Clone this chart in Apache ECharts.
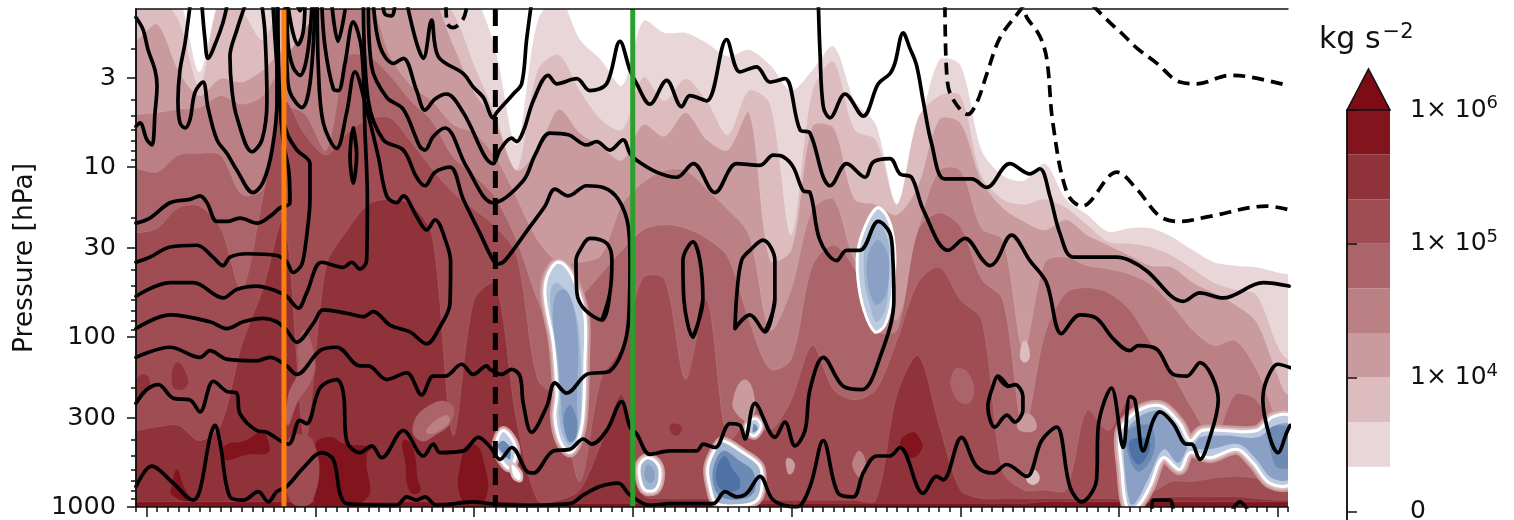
<!DOCTYPE html>
<html><head><meta charset="utf-8">
<style>html,body{margin:0;padding:0;background:#fff}#c{width:1514px;height:520px}</style>
<script src="https://cdn.jsdelivr.net/npm/echarts@6/dist/echarts.min.js"></script>
</head><body><div id="c"></div>
<script>
// ---- axes ----
const majorDays=[1,17,32,47,62,78,93,108];
const majorPressure=[3,10,30,100,300,1000];
const minorPressure=[2,3,4,5,6,7,8,9,10,20,30,40,50,60,70,80,90,100,200,300,400,500,600,700,800,900,1000];
const cbarLevels=[9,6,3,0];
const cbarLabels=['1× 10|6','1× 10|5','1× 10|4','0'];
const markerDays={orange:14,dashed:34,green:47};
// ---- filled bands: log10(pressure) of the top edge of each level, every 2 days + day 109 ----
const bandDays=[0,2,4,6,8,10,12,14,16,18,20,22,24,26,28,30,32,34,36,38,40,42,44,46,48,50,52,54,56,58,60,62,64,66,68,70,72,74,76,78,80,82,84,86,88,90,92,94,96,98,100,102,104,106,108,109];
const band1=[0,0,0,.44,0,0,0,0,0,0,0,0,0,0,0,0,0,.31,.87,.14,0,.25,.37,.52,.14,.21,.21,.27,.35,.31,.4,.55,.43,.29,.61,.75,1.22,.81,.37,.4,.9,1.05,1.08,.98,1.19,1.28,1.38,1.36,1.36,1.41,1.49,1.56,1.58,1.59,1.62,1.63];
const band2=[0,0,.13,.52,0,.08,.25,0,0,0,0,0,0,0,0,.09,.4,.69,1.02,.43,.34,.55,.72,.78,.47,.61,.48,.61,.81,.55,.63,1.4,.55,.38,.78,.84,1.22,.71,.58,.58,1.05,1.19,1.22,1.19,1.24,1.34,1.44,1.45,1.47,1.52,1.6,1.68,1.72,1.75,2.05,2.13];
const band3=[.25,.16,.43,.58,.48,.5,.43,.31,.3,.25,.09,0,0,0,0,.28,.56,.73,1.02,.9,.66,.8,.88,.96,.75,.82,.68,.84,.9,.68,1.55,1.49,.76,.77,1.19,1.22,1.28,1.11,.72,.74,1.08,1.24,1.32,1.37,1.31,1.4,1.46,1.52,1.58,1.59,1.68,1.74,1.81,1.91,2.22,2.34];
const band4=[.69,.68,.66,.65,.58,.63,.58,.37,.19,0,0,0,.34,.52,.61,.75,.8,.94,1.18,1.43,1.56,1.56,1.52,1.22,1.09,1.02,1.02,1.13,1.25,1.4,1.96,1.72,1.25,1.19,1.55,1.66,1.9,1.37,1.02,1.02,1.36,1.43,2.08,1.56,1.53,1.58,1.6,1.63,1.69,1.81,1.96,2.05,2.02,2.19,2.49,2.55];
const band5=[1.01,1.03,.93,.92,.93,1.16,1.13,.66,.69,.9,.35,.35,.46,.61,.73,.94,1.05,1.18,1.43,1.78,2.02,1.78,1.63,1.49,1.37,1.34,1.36,1.42,1.53,1.9,2.19,2.13,1.58,1.46,1.6,1.96,1.96,1.37,1.27,1.35,1.66,1.78,2.55,1.98,1.74,1.71,1.74,1.84,2.03,2.21,2.43,2.6,2.34,2.37,2.6,2.6];
const band6=[1.39,1.36,1.24,1.23,1.36,1.72,1.18,.61,.81,.93,.8,.72,.71,.85,1.01,1.15,1.25,1.35,1.52,2.25,2.37,2.85,2.25,2.05,1.65,1.66,2.25,1.78,2.61,2.49,2.55,2.37,2.05,2.31,2.37,2.31,2.02,1.68,1.59,1.78,1.9,2.79,2.9,2.9,2.9,2.43,2.55,2.37,2.9,2.85,2.85,2.83,2.82,2.83,2.87,2.9];
const band7=[2.55,2.53,2.52,2.61,2.52,2.05,1.72,1.31,2.61,1.58,1.37,1.22,1.19,1.22,1.4,2.58,1.78,1.69,2.49,2.96,2.96,2.9,2.63,2.34,2.93,2.95,2.95,2.95,2.96,2.96,2.96,2.96,2.96,2.96,2.96,2.96,2.34,2.11,2.52,2.9,2.95,2.95,2.95,2.95,2.95,2.95,2.95,2.96,2.95,2.94,2.94,2.94,2.94,2.95,2.96,2.96];
const band8=[2.97,2.97,2.97,2.97,2.97,2.97,2.97,2.97,2.97,2.97,2.97,2.97,2.97,2.97,2.97,2.97,2.97,2.97,2.97,2.98,2.98,2.98,2.98,2.98,2.98,2.98,2.98,2.98,2.98,2.98,2.98,2.98,2.98,2.98,2.98,2.98,2.98,2.98,2.98,2.98,2.98,2.98,2.98,2.97,2.97,2.97,2.97,2.97,2.97,2.97,2.97,2.97,2.97,2.97,2.97,2.97];
const bandColors=['#e9d6d8','#dcbcbf','#c99b9e','#ba8083','#ab656a','#9f4c52','#8f323a','#81141c'];
// ---- patches [day,log10p,...] ----
const patches=[
 [7,[3.41,2.28,3.88,2.15,4.92,2.25,4.35,2.31]],
 [7,[0,2.26,.85,2.22,1.32,2.28,.38,2.37,0,2.4]],
 [8,[8.23,2.72,8.42,2.64,10.31,2.61,11.92,2.56,12.49,2.61,12.49,2.68,10.79,2.69]],
 [8,[16.75,2.96,16.93,2.64,18.35,2.59,19.77,2.63,21.67,2.64,22.42,2.65,21.85,2.69,21.67,2.96]],
 [8,[25.26,2.61,26.11,2.64,26.68,2.84,26.87,2.91,25.92,2.91,25.45,2.73]],
 [8,[30.84,2.96,30.94,2.67,31.79,2.63,32.73,2.69,33.02,2.96]],
 [8,[3.41,2.93,3.41,2.87,3.88,2.78,4.45,2.87,5.11,2.96]],
 [8,[72.28,2.63,73.41,2.56,74.17,2.6,74.36,2.66,73.22,2.71]],
 [6,[14.29,2.61,16.75,2.61,16.75,2.96,14.57,2.96]],
 [5,[15.99,1.96,16.93,2.14,16.65,2.25,15.33,2.38,14.38,2.52,14.38,2.35,15.33,2.2,15.33,2.05]],
 [5,[26.2,2.52,27.81,2.4,29.71,2.39,29.9,2.49,28.29,2.58,26.87,2.61]],
 [4,[27.53,2.54,29.23,2.46,29.71,2.49,28.76,2.55,27.63,2.57]],
 [3,[57.62,2.25,58.56,2.37,58.09,2.49,56.95,2.46,56.48,2.37]],
 [5,[77.96,2.18,79.09,2.25,79.09,2.37,78.14,2.39,77.2,2.31,77.2,2.22]],
 [2,[84.1,2.02,84.58,2.11,84.1,2.15,83.63,2.11]],
 [3,[84.3,2.45,85.24,2.52,84.58,2.56,83.35,2.53]],
 [2,[84.86,2.78,85.52,2.83,84.86,2.87,84.2,2.83]],
 [3,[61.68,2.71,62.35,2.75,61.87,2.81,61.5,2.76]],
 [4,[68.5,2.67,69.06,2.75,68.69,2.83,67.83,2.77,67.93,2.71]],
 [7,[50.71,2.51,51.66,2.53,51.18,2.58,50.52,2.55]]
];
// ---- negative (blue) regions ----
const blobA=[39.92,1.56,40.87,1.6,41.72,1.71,42.48,1.88,42.48,2.13,42.29,2.47,41.82,2.61,41.06,2.68,40.11,2.61,39.64,2.47,39.83,2.33,39.45,2.02,38.88,1.84,38.69,1.72,39.07,1.62];
const blobAmid=[39.83,1.68,40.77,1.74,41.53,1.84,42,2.02,42.1,2.43,41.72,2.58,41.06,2.64,40.4,2.58,40.02,2.46,40.11,2.34,39.73,2.07,39.26,1.84,39.26,1.72];
const blobAcore=[39.73,1.75,40.59,1.72,41.34,1.81,41.82,2.02,41.72,2.37,41.72,2.55,41.06,2.62,40.49,2.55,40.2,2.37,39.92,2.13,39.45,1.9];
const blobAdark=[41.06,2.4,41.72,2.49,41.63,2.59,41.06,2.62,40.59,2.55,40.49,2.46];
const blobB=[70.1,1.24,69.06,1.34,68.31,1.49,68.31,1.66,68.87,1.84,69.91,1.97,70.86,1.93,71.52,1.78,71.81,1.55,71.52,1.37,70.86,1.27];
const blobBmid=[70.1,1.32,69.25,1.4,68.87,1.52,68.97,1.69,69.44,1.81,70.01,1.91,70.86,1.85,71.24,1.66,71.24,1.46,70.77,1.37];
const blobBcore=[70.1,1.43,69.25,1.52,69.25,1.69,70.01,1.81,70.96,1.75,71.24,1.55,70.77,1.46];
const blobC=[34.72,2.55,35.67,2.61,35.95,2.69,35.38,2.77,34.63,2.73,34.06,2.64];
const blobCcore=[34.72,2.61,35.38,2.65,35.38,2.72,34.91,2.7,34.25,2.64];
const spotC=[35.57,2.75,36.33,2.8,36.33,2.84,35.76,2.82];
const blobD=[48.44,2.71,49.38,2.75,49.57,2.83,49.1,2.9,48.15,2.9,47.68,2.83,47.68,2.75];
const blobDcore=[48.44,2.75,49.01,2.78,49.01,2.84,48.63,2.86,48.15,2.83,48.15,2.78];
const blobE=[55.53,2.61,57.43,2.68,59.04,2.76,59.22,2.88,58.75,2.96,57.43,2.99,54.97,2.98,54.3,2.88,54.12,2.76,54.97,2.64];
const blobEcore=[55.53,2.67,57.14,2.73,58.37,2.79,58.56,2.9,57.62,2.95,55.72,2.95,54.78,2.9,54.59,2.78];
const blobEdark=[55.72,2.7,56.48,2.78,57.14,2.84,56.95,2.9,55.44,2.9,54.87,2.84,55.06,2.75];
const blobF=[57.8,2.52,58.56,2.48,59.13,2.52,58.56,2.58,57.9,2.56];
const blobFcore=[58.47,2.51,58.84,2.54,58.37,2.56];
const blobG=[93.09,2.56,94.04,2.47,95.65,2.41,97.16,2.41,98.77,2.51,99.72,2.61,100.85,2.55,102.84,2.55,106.06,2.55,107.57,2.47,109.2,2.47,109.2,2.86,107.28,2.86,105.68,2.74,104.16,2.66,101.61,2.71,99.72,2.68,98.77,2.78,97.16,2.71,95.93,2.88,94.7,3,93.76,3,93.28,2.78];
const blobGleft=[93.56,2.58,94.51,2.49,95.93,2.44,97.16,2.44,98.48,2.53,99.43,2.65,99.43,2.66,98.58,2.74,97.25,2.66,95.74,2.84,94.51,2.98,94.04,2.98,93.56,2.78];
const blobGright=[100.66,2.59,103.03,2.58,106.15,2.59,107.76,2.52,109.2,2.52,109.2,2.83,107.47,2.83,105.87,2.71,104.26,2.63,101.61,2.66,100.19,2.65];
const blobGdark=[93.85,2.55,95.93,2.52,96.41,2.64,95.74,2.75,94.7,2.79,93.76,2.66];
const blobGdeep=[94.04,2.61,95.74,2.6,95.93,2.66,94.99,2.75,94.23,2.71];
const blobGedge=[107.28,2.54,109.2,2.54,109.2,2.76,107.85,2.76];
// ---- contours [day,log10p,...] ----
const lineL1=[0,.12,.66,.19,1.14,.31,1.8,.43,1.99,.52,1.8,.68,1.51,.87,1.04,.84,.38,.74,0,.76];
const lineL2=[5.11,.05,4.64,.27,4.16,.43,3.97,.61,4.16,.74,4.64,.77,5.11,.72,5.58,.56,6.34,.5,6.81,.65,7.66,.84,8.61,.92,9.56,1.02,11.07,1.15,12.02,1.09,12.87,.9,13.34,.61,13.34,.05];
const lineL2b=[6.24,.05,6.53,.25,6.81,.36,7.66,.25,8.23,.15,8.61,.05];
const lineL3=[10.31,.05,9.56,.19,8.89,.35,9.08,.55,9.56,.71,10.97,.91,11.92,.84,12.39,.61,12.2,.21,11.92,.05];
const lineL5=[0,1.33,1.32,1.3,3.22,1.21,5.11,1.19,6.05,1.17,6.72,1.21,7.66,1.32,8.61,1.32,9.84,1.3,11.45,1.33,12.68,1.29,13.62,1.24,14.57,1.21,14.47,1.03,13.91,.84,13.34,.41,12.96,.05];
const lineL6=[0,1.56,1.32,1.53,3.22,1.47,5.77,1.46,7.28,1.53,8.23,1.58,8.89,1.53,10.5,1.51,13.34,1.52,14.29,1.56,14.85,1.62,15.52,1.59,15.8,1.55,16.18,1.39,16.46,1.19,16.46,.98,15.23,.9,14.29,.8,13.62,.61,13.43,.05];
const lineL7=[14.38,.05,14.85,.21,15.33,.28,15.8,.21,15.99,.05];
const lineL8=[14.29,.05,14.38,.27,14.85,.41,15.52,.46,16.18,.35,16.65,.05];
const lineL9=[14.1,.05,14.29,.41,14.57,.56,15.7,.65,16.46,.51,16.93,.05];
const lineL10=[18.54,.05,19.11,.26,19.77,.08];
const lineP=[0,1.76,3.21,1.68,5.42,1.68,8.26,1.77,9.52,1.72,11.42,1.7,13.31,1.73,14.25,1.76,15.36,1.83,16.15,1.74,17.57,1.56,19.62,1.59,20.4,1.56,21.19,1.6,21.82,1.55,21.89,1.19,21.67,.8,21.35,.31,20.56,.145,19.77,.39,19.14,.55,18.67,.54,17.88,.29,17.57,.03];
const lineL11=[17.15,.03,17.25,.41,17.72,.74,18.98,.89,19.93,.68,20.72,.44,21.82,.66,22.93,.94,23.72,1.17,24.66,1.21,25.29,1.17,26.55,1.29,27.5,1.37,28.29,1.31,29.39,1.45,29.77,1.56,29.71,1.8,28.76,1.94,27.5,2.04,25.92,1.97,24.03,1.93,22.45,1.85,21.51,1.88,19.93,1.86,17.72,1.84,16.78,1.92,15.2,2.03,14.25,1.96,13.31,1.91,12.05,1.89,10.15,1.91,8.58,1.95,7,1.91,3.21,1.87,0,1.95];
const lineB3=[21.51,.03,21.98,.61,23.4,.84,25.29,.9,26.55,1.06,27.34,1.11,28.29,1.03,29.71,1,30.97,1.19,32.55,1.39,33.81,1.55,34.28,1.57,34.91,1.55,37.28,1.35,38.69,1.23,39.64,1.13,40.9,1.17,42.64,1.11,44.21,1.12,45.63,1.19,46.58,1.35,46.74,1.55,46.58,1.92,44.84,2.2,42.64,2.22,40.74,2.33,39.64,2.27,38.85,2.41,37.43,2.56,36.64,2.39,36.33,2.23,35.54,2.19,34.59,2.22,33.49,2.19,33.18,2.17,31.92,2.22,30.81,2.16,29.24,2.23,28.13,2.23,27.03,2.34,25.61,2.21,23.72,2.25,21.98,2.17,21.19,2.17,18.98,2.06,17.41,2.08,15.2,2.22,14.25,2.17,12.68,2.12,11.42,2.14,8.58,2.13,7,2.08,6.05,2.12,3.21,2.06,0,2.12];
const lineB2=[21.98,.03,22.3,.41,23.72,.59,25.29,.66,26.87,.88,27.34,.9,28.13,.82,29.24,.77,31.29,1,33.81,1.21,36.64,1.08,37.75,.93,39.17,.8,40.9,.81,42.64,.87,43.58,.85,44.84,.9,46.1,.84,46.74,.92,47.37,.96,49.26,1.03,51.15,1.06,52.73,.98,54.78,1.15,56.83,.98,59.04,.99,60.3,.93,61.25,.94,62.19,1,63.14,1.14,63.77,1.15,64.71,1.43,66.29,1.55,67.24,1.49,68.5,1.49,70.23,1.32,71.34,1.39,71.62,1.55,71.71,1.78,70.39,2.12,68.66,2.31,66.92,2.29,65.03,2.12,63.77,2.31,63.3,2.55,62.35,2.64,61.4,2.5,60.46,2.59,58.56,2.39,57.62,2.6,57.14,2.52,56.2,2.51,54.78,2.65,53.68,2.63,53.04,2.67,50.52,2.67,48.63,2.69,47.37,2.57,46.74,2.53,45.95,2.38,44.53,2.55,43.11,2.63,42.32,2.6,41.06,2.66,39.48,2.67,37.59,2.8,36.96,2.79,35.54,2.65,34.44,2.72,33.49,2.645,32.39,2.59,30.97,2.67,28.76,2.68,28.13,2.63,27.19,2.7,25.29,2.55,23.24,2.71,22.3,2.64,21.19,2.68,19.93,2.61,19.62,2.33,18.98,2.25,17.41,2.3,16.15,2.51,15.51,2.49,14.41,2.63,12.36,2.56,11.42,2.55,9.84,2.45,9.52,2.33,8.58,2.32,7.32,2.26,6.05,2.44,5.11,2.37,3.53,2.36,2.11,2.28,1,2.31,0,2.39];
const lineB1=[22.45,.03,23.08,.29,24.35,.39,25.29,.36,26.55,.55,27.34,.665,28.29,.6,29.39,.57,30.97,.68,33.81,.98,34.44,.9,35.54,.83,36.01,.85,36.64,.79,37.59,.61,39.01,.46,39.8,.51,41.69,.48,42.95,.55,44.53,.51,45.79,.26,46.74,.43,47.37,.51,48.63,.63,50.21,.49,51.63,.645,52.41,.58,53.99,.61,55.88,.25,57.14,.44,58.72,.41,59.98,.5,61.4,.48,62.82,.78,63.77,.8,65.03,1.06,65.66,1.11,67.24,.98,68.97,1.06,69.76,.97,71.34,.95,72.28,1.04,73.38,1.06,74.48,1.25,76.85,1.49,78.43,1.42,80.16,1.55,80.79,1.58,81.42,1.55,82.84,1.4,84.58,1.55,86.15,1.68,87.57,1.98,89.31,1.87,90.88,1.89,92.46,2.01,94.04,2.08,94.83,2.05,96.56,2.07,98.14,2.22,99.4,2.23,100.66,2.15,102.4,2.37,101.61,2.59,100.66,2.72,99.87,2.63,99.4,2.63,98.14,2.51,96.88,2.44,96.25,2.49,95.3,2.67,94.51,2.37,94.04,2.35,93.41,2.65,92.3,2.3,91.04,2.53,90.88,2.84,89.47,2.97,88.36,2.88,87.1,2.53,85.68,2.61,84.26,2.82,82.37,2.75,81.11,2.8,79.53,2.76,78.11,2.59,76.38,2.84,75.75,2.82,74.48,2.92,72.28,2.65,71.33,2.7,70.08,2.7,68.81,2.8,67.87,2.94,66.45,2.92,65.03,2.61,63.77,2.88,62.51,3,60.3,2.96,59.04,2.82,57.78,2.92,56.83,2.94,55.73,2.91,54.62,2.98,53.04,2.98,50.52,2.98,48.63,2.99,46.74,2.93,45.63,2.86,43.9,2.88,42.32,2.93,41.06,2.98,36.64,2.99,33.49,2.98,31.92,2.97,28.45,2.99,27.34,2.94,26.55,2.96,25.61,2.94,24.66,2.99,19.93,2.98,19.3,2.92,18.67,2.72,17.57,2.68,15.83,2.77,14.25,2.88,13.31,2.91,12.52,2.97,11.57,2.91,10.15,2.96,8.89,2.94,7.95,2.62,7.47,2.52,7,2.59,6.05,2.9,5.42,2.96,3.53,2.86,1.48,2.76,0,2.88];
const lineA=[25.61,.03,26.55,.27,27.19,.36,27.97,.135,28.6,.35,30.97,.45,31.92,.53,32.86,.59,33.81,.71,34.12,.68,35.7,.57,36.49,.51,36.96,.25,37.43,.03];
const lineC=[64.56,.03,64.71,.31,65.03,.645,65.66,.71,67.08,.57,68.81,.7,70.23,.51,71.34,.45,71.8,.39,72.59,.21,73.22,.3,73.85,.4,74.48,.61,75.27,.86,76.53,1.07,79.06,1.07,80.48,1.12,82.68,.98,84.58,1.04,85.52,1.01,86.47,1.17,87.42,1.39,88.68,1.53,92.78,1.53,94.04,1.55,95.62,1.61,99.09,1.79,100.66,1.74,102.87,1.77,106.65,1.68,109.1,1.7];
const loopE=[20.56,.77,20.88,.92,20.56,1.096,20.25,.94,20.56,.77,20.88,.92];
const loop1=[44.84,1.74,44.09,1.9,42.48,1.84,41.72,1.74,41.63,1.55,42,1.49,42.95,1.42,44.56,1.45,45.03,1.55,44.84,1.74,44.09,1.9];
const loop2=[53.64,1.78,52.7,2,51.84,1.78,51.75,1.55,52.7,1.44,53.36,1.55,53.64,1.78,52.7,2];
const loop3=[60.45,1.78,59.51,1.97,58.09,1.87,56.67,1.95,56.86,1.74,57.3,1.55,58.09,1.49,59.32,1.43,60.45,1.55,60.45,1.78,59.51,1.97];
const loop4=[81.55,2.23,82.5,2.29,83.16,2.28,83.92,2.35,83.92,2.43,83.16,2.5,82.4,2.46,81.27,2.53,80.6,2.41,81.08,2.29,81.55,2.23,82.5,2.29];
const loop5=[109.2,2.18,108.04,2.16,107,2.25,106.62,2.37,107.28,2.59,108.04,2.68,108.89,2.56,109.2,2.52];
const tick1=[96.12,3.01,96.22,2.96,97.82,2.96,98.11,3.01];
const tick2=[103.8,3.01,104.45,2.97,105.1,3.01];
const tick3=[23.37,.04,23.56,.1,24.22,.11,24.5,.04];
const tick4=[15.23,.04,15.52,.08,15.8,.04];
const solidLines=[lineL1,lineL2,lineL2b,lineL3,lineL5,lineL6,lineL7,lineL8,lineL9,lineL10,lineP,lineL11,lineB3,lineB2,lineB1,lineA,lineC,loopE,loop1,loop2,loop3,loop4,loop5,tick1,tick2,tick3,tick4];
const dash0=[29.33,.05,29.42,.15,29.99,.18,30.94,.13,31.32,.05];
const dash1=[76.54,.05,76.73,.47,77.2,.59,78.71,.69,79.56,.62,80.51,.45,81.74,.24,83.63,.08,83.92,.06,84.29,.12,85.52,.23,86.19,.37,86.75,.74,88.08,1.15,89.5,1.23,92.81,1.03,94.7,1.13,96.88,1.29,98.77,1.32,101.6,1.29,107,1.23,109,1.25];
const dash2=[90.54,.05,92.15,.15,93.38,.22,94.7,.3,96.6,.39,98.77,.5,100.4,.51,103.5,.46,105.4,.47,109,.52];
const dashedLines=[dash0,dash1,dash2];
// ---- colour bar ----
const cbarColors=['#ffffff','#e9d6d8','#dcbcbf','#c99b9e','#ba8083','#ab656a','#9f4c52','#8f323a','#81141c'];
const cbarOver='#7d0c14';

// ---- build ----
const pale='#bccbdf',mid='#a3b6d1',core='#8aa0c5',dark='#6c8ab3',deep='#4f72a6';
const layers=[];
[band1,band2,band3,band4,band5,band6,band7,band8].forEach((b,i)=>{
  const pts=[-3,b[0]];
  b.forEach((v,k)=>pts.push(bandDays[k],v));
  pts.push(112,b[b.length-1],112,3.3,-3,3.3);
  layers.push({pts,fill:bandColors[i],stroke:'rgba(255,255,255,0.16)',width:.6,smooth:.3});
});
patches.forEach(p=>layers.push({pts:p[1],fill:bandColors[p[0]-1],smooth:.5}));
function halo(pts,w1,w2){
  if(w1)layers.push({pts,fill:'none',stroke:'#c99b9e',width:w1,smooth:.35});
  if(w2)layers.push({pts,fill:'none',stroke:'#dcbcbf',width:w2,smooth:.35});
}
function blob(pts,fill,w){layers.push({pts,fill,stroke:w?'#ffffff':fill,width:w||0,smooth:.35});}
halo(blobA,10,6);blob(blobA,pale,3);blob(blobAmid,mid);blob(blobAcore,core);blob(blobAdark,dark);
blob(blobB,pale,3);blob(blobBmid,mid);blob(blobBcore,core);
halo(blobC,9,6);blob(blobC,pale,3);blob(blobCcore,dark);
halo(spotC,0,5);blob(spotC,'#ffffff');
halo(blobD,10,7);blob(blobD,mid,3);blob(blobDcore,core);
halo(blobE,9,6);blob(blobE,mid,3);blob(blobEcore,dark);blob(blobEdark,deep);
halo(blobF,8,5);blob(blobF,pale,2.5);blob(blobFcore,dark);
halo(blobG,11,7);blob(blobG,pale,3);blob(blobGleft,core);blob(blobGright,core);blob(blobGedge,dark);blob(blobGdark,dark);blob(blobGdeep,deep);

const toPairs=a=>{const o=[];for(let i=0;i<a.length;i+=2)o.push([a[i],a[i+1]]);return o;};
const log10=Math.log10;
const font='"DejaVu Sans"';
const ink='#111';
const series=[];
series.push({type:'custom',xAxisIndex:0,yAxisIndex:0,clip:true,silent:true,z:1,
  data:layers.map(l=>[l.pts[0],l.pts[1]]),
  renderItem(params,api){
    const L=layers[params.dataIndex],points=[];
    for(let i=0;i<L.pts.length;i+=2)points.push(api.coord([L.pts[i],L.pts[i+1]]));
    return {type:'polygon',shape:{points,smooth:L.smooth||0},
      style:{fill:L.fill==='none'?'transparent':L.fill,stroke:L.stroke||'transparent',lineWidth:L.width||0,lineJoin:'round'}};
  }});
solidLines.forEach(a=>series.push({type:'line',xAxisIndex:0,yAxisIndex:0,data:toPairs(a),smooth:.35,symbol:'none',silent:true,z:3,
  lineStyle:{color:'#000',width:3.7,cap:'round',join:'round'}}));
dashedLines.forEach(a=>series.push({type:'line',xAxisIndex:0,yAxisIndex:0,data:toPairs(a),smooth:.35,symbol:'none',silent:true,z:3,
  lineStyle:{color:'#000',width:3.7,type:[12,7]}}));
[[markerDays.orange,'#ff7f0e','solid'],[markerDays.dashed,'#000',[17,10]],[markerDays.green,'#2ca02c','solid']].forEach(m=>
  series.push({type:'line',xAxisIndex:0,yAxisIndex:0,data:[[m[0],.07],[m[0],3]],symbol:'none',silent:true,z:4,
    lineStyle:{color:m[1],width:5,type:m[2],cap:'butt'}}));
// colour bar
series.push({type:'custom',xAxisIndex:3,yAxisIndex:3,silent:true,z:1,clip:false,
  data:cbarColors.map((c,i)=>[0,i]),
  renderItem(params,api){
    const i=params.dataIndex;
    const a=api.coord([0,i+1]),b=api.coord([1,i]);
    return {type:'rect',shape:{x:a[0],y:a[1],width:b[0]-a[0],height:b[1]-a[1]},style:{fill:cbarColors[i]}};
  }});
series.push({type:'custom',xAxisIndex:3,yAxisIndex:3,silent:true,z:2,clip:false,
  data:[[0,9]],
  renderItem(params,api){
    return {type:'polygon',shape:{points:[api.coord([0,9]),api.coord([.5,9.92]),api.coord([1,9])]},
      style:{fill:cbarOver,stroke:ink,lineWidth:1.5,lineJoin:'miter'}};
  }});

const hidden={show:false};
const line={show:true,lineStyle:{color:ink,width:1.5}};
const baseX={type:'value',min:0,max:109,splitLine:hidden,axisLabel:hidden,axisTick:hidden,axisLine:line,z:10};
const baseY={type:'value',min:.07,max:3,inverse:true,splitLine:hidden,axisLabel:hidden,axisTick:hidden,axisLine:line,z:10};
const tk=(len,extra)=>Object.assign({show:true,length:len,inside:false,lineStyle:{color:ink,width:1.5}},extra||{});
const chart=echarts.init(document.getElementById('c'),null,{renderer:'canvas'});
chart.setOption({
  animation:false,backgroundColor:'#fff',
  grid:[
    {left:136,top:9,width:1152,height:498,containLabel:false,outerBoundsMode:'none'},
    {left:136,top:9,width:1152,height:498,containLabel:false,outerBoundsMode:'none'},
    {left:1347,top:110,width:43,height:411,containLabel:false,outerBoundsMode:'none'}
  ],
  xAxis:[
    Object.assign({},baseX,{gridIndex:0,position:'bottom',interval:1,axisTick:tk(5)}),
    Object.assign({},baseX,{gridIndex:0,position:'top'}),
    Object.assign({},baseX,{gridIndex:1,position:'bottom',axisLine:hidden,axisTick:tk(10,{customValues:majorDays})}),
    {type:'value',gridIndex:2,min:0,max:1,show:false}
  ],
  yAxis:[
    Object.assign({},baseY,{gridIndex:0,position:'left',axisTick:tk(5,{customValues:minorPressure.map(log10)})}),
    Object.assign({},baseY,{gridIndex:0,position:'right'}),
    Object.assign({},baseY,{gridIndex:1,position:'left',axisLine:hidden,
      name:'Pressure [hPa]',nameLocation:'middle',nameGap:97,nameRotate:90,
      nameTextStyle:{fontFamily:font,fontSize:26.5,color:ink},
      axisTick:tk(9,{customValues:majorPressure.map(log10)}),
      axisLabel:{show:true,margin:20,fontFamily:font,fontSize:25.5,color:ink,
        customValues:majorPressure.map(log10),
        formatter:v=>String(Math.round(Math.pow(10,v)))}}),
    {type:'value',gridIndex:2,position:'right',min:-.215,max:9,splitLine:hidden,z:10,
      axisLine:line,
      axisTick:tk(10,{customValues:cbarLevels}),
      axisLabel:{show:true,margin:20,color:ink,align:'left',
        customValues:cbarLevels,
        formatter:v=>{const t=cbarLabels[cbarLevels.indexOf(Math.round(v))].split('|');
          return t.length>1?'{a|'+t[0]+'}{s|'+t[1]+'}':'{a|'+t[0]+'}';},
        rich:{a:{fontFamily:font,fontSize:25,color:ink},
              s:{fontFamily:font,fontSize:18,color:ink,padding:[0,0,13,0]}}}},
    {type:'value',gridIndex:2,position:'left',min:-.215,max:9,splitLine:hidden,axisLabel:hidden,axisTick:hidden,axisLine:line,z:10}
  ],
  title:{show:true,text:'{a|kg s}{s|−2}',left:1319,top:22,padding:0,
    textStyle:{fontWeight:'normal',rich:{a:{fontFamily:font,fontSize:30,fontWeight:'normal',color:ink},
                     s:{fontFamily:font,fontSize:21,fontWeight:'normal',color:ink,padding:[0,0,15,2]}}}},
  series
});
</script></body></html>
